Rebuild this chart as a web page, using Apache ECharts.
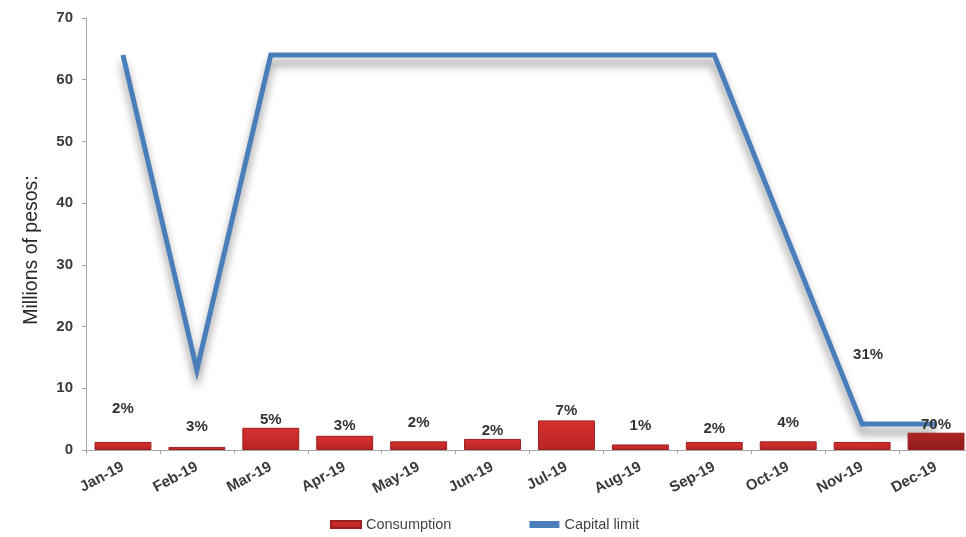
<!DOCTYPE html>
<html>
<head>
<meta charset="utf-8">
<script src="https://cdn.jsdelivr.net/npm/echarts@6/dist/echarts.min.js"></script>
<style>
  html, body { margin: 0; padding: 0; background: #fff; }
  #chart { width: 966px; height: 537px; }
</style>
</head>
<body>
<div id="chart"></div>
<script>
// Monthly figures, millions of pesos
const months = ['Jan-19', 'Feb-19', 'Mar-19', 'Apr-19', 'May-19', 'Jun-19',
                'Jul-19', 'Aug-19', 'Sep-19', 'Oct-19', 'Nov-19', 'Dec-19'];
const consumption = [1.3, 0.5, 3.6, 2.3, 1.4, 1.8, 4.8, 0.9, 1.3, 1.4, 1.3, 2.8];
const capitalLimit = [64, 13, 64, 64, 64, 64, 64, 64, 64, 34, 4.2, 4.2];
// Share of the capital limit used each month
const usedShare = ['2%', '3%', '5%', '3%', '2%', '2%', '7%', '1%', '2%', '4%', '31%', '70%'];
const yTicks = { min: 0, max: 70, interval: 10 };

// Distance of each share label above its bar, in pixels
const labelLift = [26, 13, 0, 2, 11, 1, 2, 11, 6, 11, 80, 0];

const font = 'Arial, "Liberation Sans", sans-serif';
const chart = echarts.init(document.getElementById('chart'), null, { renderer: 'canvas' });

const barData = consumption.map((v, i) => ({
  value: v,
  itemStyle: i === 11 ? {
    color: new echarts.graphic.LinearGradient(0, 0, 0, 1, [
      { offset: 0, color: '#b02424' }, { offset: 1, color: '#8e1c1c' }
    ])
  } : undefined,
  label: {
    show: true,
    position: 'top',
    distance: labelLift[i],
    offset: i === 10 ? [6, 0] : [0, 0],
    formatter: usedShare[i]
  }
}));

chart.setOption({
  animation: false,
  backgroundColor: '#ffffff',
  grid: { left: 86, width: 887, top: 18, bottom: 87, outerBoundsMode: 'none', containLabel: false },
  legend: {
    bottom: 0,
    left: 325,
    itemGap: 78,
    itemWidth: 30,
    itemHeight: 7,
    textStyle: { fontFamily: font, fontSize: 14.5, color: '#444' },
    data: [
      { name: 'Consumption', icon: 'rect' },
      { name: 'Capital limit', icon: 'rect', itemStyle: { color: '#4a7ebb' } }
    ]
  },
  xAxis: {
    type: 'category',
    data: months,
    axisLine: { lineStyle: { color: '#a6a6a6', width: 1 } },
    axisTick: { show: true, length: 4, lineStyle: { color: '#a6a6a6' } },
    axisLabel: {
      rotate: 28,
      margin: 16,
      interval: 0,
      fontFamily: font,
      fontSize: 15,
      fontWeight: 'bold',
      color: '#3a3a3a'
    }
  },
  yAxis: {
    type: 'value',
    min: yTicks.min,
    max: yTicks.max,
    interval: yTicks.interval,
    name: 'Millions of pesos:',
    nameLocation: 'middle',
    nameGap: 44,
    nameTextStyle: { fontFamily: font, fontSize: 19.5, color: '#2a2a2a', padding: [0, 32, 0, 0] },
    axisLine: { show: true, lineStyle: { color: '#a6a6a6', width: 1 } },
    axisTick: { show: true, length: 4, lineStyle: { color: '#a6a6a6' } },
    splitLine: { show: false },
    axisLabel: {
      margin: 13,
      fontFamily: font,
      fontSize: 15,
      fontWeight: 'bold',
      color: '#3a3a3a'
    }
  },
  series: [
    {
      name: 'Consumption',
      type: 'bar',
      data: barData,
      barWidth: '77%',
      z: 3,
      itemStyle: {
        color: new echarts.graphic.LinearGradient(0, 0, 0, 1, [
          { offset: 0, color: '#d8302f' }, { offset: 1, color: '#b72424' }
        ]),
        borderColor: '#9a1f1f',
        borderWidth: 1
      },
      label: {
        fontFamily: font,
        fontSize: 15,
        fontWeight: 'bold',
        color: '#333'
      }
    },
    {
      name: 'Capital limit',
      type: 'line',
      data: capitalLimit,
      symbol: 'none',
      z: 2,
      lineStyle: {
        color: '#4a7ebb',
        width: 5,
        join: 'miter',
        shadowColor: 'rgba(0,0,0,0.45)',
        shadowBlur: 8,
        shadowOffsetY: 8,
        shadowOffsetX: 0
      },
      itemStyle: { color: '#4a7ebb' }
    }
  ]
});
</script>
</body>
</html>
